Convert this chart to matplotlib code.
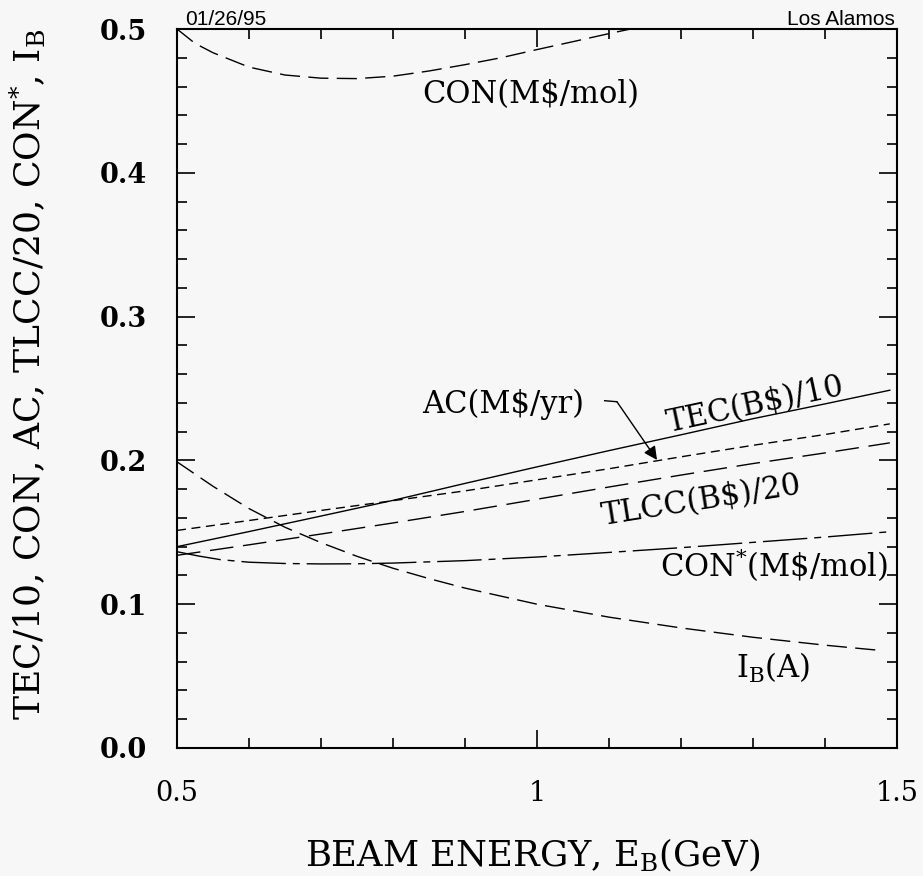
import numpy as np
import matplotlib
matplotlib.use("Agg")
import matplotlib.pyplot as plt
from matplotlib.ticker import MultipleLocator, FixedLocator

# values
E_con = [0.5, 0.525, 0.55, 0.6, 0.65, 0.7, 0.75, 0.8, 0.85, 0.9, 0.95, 1.0, 1.05, 1.1, 1.13]
con = [0.500, 0.490, 0.4835, 0.4735, 0.468, 0.4658, 0.4655, 0.4672, 0.4708, 0.4752, 0.4800, 0.4857, 0.4912, 0.4968, 0.500]

E = [0.5, 0.6, 0.7, 0.8, 0.9, 1.0, 1.1, 1.2, 1.3, 1.4, 1.49]
tec = [0.1400, 0.1505, 0.1613, 0.1722, 0.1840, 0.1955, 0.2068, 0.2178, 0.2290, 0.2393, 0.2488]
ac = [0.1513, 0.1582, 0.1652, 0.1720, 0.1788, 0.1865, 0.1942, 0.2025, 0.2105, 0.2180, 0.2254]
tlcc = [0.1340, 0.1413, 0.1488, 0.1565, 0.1645, 0.1730, 0.1815, 0.1898, 0.1978, 0.2052, 0.2122]

E_star = [0.5, 0.53, 0.56, 0.6, 0.65, 0.7, 0.75, 0.8, 0.9, 1.0, 1.1, 1.2, 1.3, 1.4, 1.49]
con_star = [0.1365, 0.1335, 0.1310, 0.1292, 0.1283, 0.1280, 0.1281, 0.1286, 0.1303, 0.1328, 0.1360, 0.1393, 0.1430, 0.1467, 0.1504]

E_ib = [0.5, 0.55, 0.6, 0.65, 0.7, 0.75, 0.8, 0.85, 0.9, 1.0, 1.1, 1.2, 1.3, 1.4, 1.48]
ib = [0.199, 0.182, 0.1665, 0.1535, 0.1428, 0.1333, 0.1250, 0.1178, 0.1112, 0.1000, 0.0910, 0.0835, 0.0770, 0.0715, 0.0677]

x_ticks = [0.5, 1.0, 1.5]
x_ticklabels = ["0.5", "1", "1.5"]
y_ticks = [0.0, 0.1, 0.2, 0.3, 0.4, 0.5]

plt.rcParams["font.family"] = "DejaVu Serif"
plt.rcParams["mathtext.fontset"] = "dejavuserif"

fig = plt.figure(figsize=(9.23, 8.76), dpi=100)
fig.patch.set_facecolor("#f7f7f7")
ax = fig.add_axes([177 / 923, 128 / 876, 720 / 923, 719 / 876])
ax.set_facecolor("#f7f7f7")

lw = 1.0
ax.plot(E_con, con, color="black", lw=lw, dashes=(14.5, 6))
ax.plot(E, tec, color="black", lw=lw)
ax.plot(E, ac, color="black", lw=lw, dashes=(6.5, 4))
ax.plot(E, tlcc, color="black", lw=lw, dashes=(17, 7))
ax.plot(E_star, con_star, color="black", lw=lw, dashes=(32, 5, 5, 5))
ax.plot(E_ib, ib, color="black", lw=lw, dashes=(14.5, 6))

ax.set_xlim(0.5, 1.5)
ax.set_ylim(0.0, 0.5)
ax.xaxis.set_major_locator(FixedLocator(x_ticks))
ax.set_xticklabels(x_ticklabels)
ax.xaxis.set_minor_locator(MultipleLocator(0.1))
ax.yaxis.set_major_locator(FixedLocator(y_ticks))
ax.set_yticklabels(["%.1f" % v for v in y_ticks], fontweight="bold")
ax.yaxis.set_minor_locator(MultipleLocator(0.02))
ax.tick_params(which="both", direction="in", top=True, right=True, width=1.2, labelsize=19.5)
ax.tick_params(which="major", length=13)
ax.tick_params(which="minor", length=7)
ax.tick_params(axis="x", pad=23)
ax.tick_params(axis="y", pad=21.5)
for s in ax.spines.values():
    s.set_linewidth(1.5)

# curve labels
fs = 22
ax.text(0.840, 0.4483, r"CON(M\$/mol)", fontsize=fs, ha="left", va="baseline")
ax.text(0.840, 0.2328, r"AC(M\$/yr)", fontsize=fs, ha="left", va="baseline")
ax.text(1.1835, 0.220, r"TEC(B\$)/10", fontsize=fs, ha="left", va="baseline",
        rotation=12, rotation_mode="anchor")
ax.text(1.092, 0.155, r"TLCC(B\$)/20", fontsize=fs, ha="left", va="baseline",
        rotation=9, rotation_mode="anchor")
ax.text(1.171, 0.1189, r"CON$^{*}$(M\$/mol)", fontsize=fs, ha="left", va="baseline")
ax.text(1.277, 0.0485, r"I$_\mathrm{B}$(A)", fontsize=fs, ha="left", va="baseline")

# arrow from AC label to its curve
ax.plot([1.094, 1.111], [0.2415, 0.2408], color="black", lw=1.0)
ax.annotate("", xy=(1.1667, 0.2003), xytext=(1.111, 0.2408),
            arrowprops=dict(arrowstyle="-|>", color="black", lw=1.0,
                            mutation_scale=20, shrinkA=0, shrinkB=0))

# axis titles
ax.text(0.494, -0.165, r"BEAM ENERGY, E$_\mathrm{B}$(GeV)", fontsize=25.5,
        ha="center", va="baseline", transform=ax.transAxes)
ax.text(-0.2076, 0.520, r"TEC/10, CON, AC, TLCC/20, CON$^{*}$, I$_\mathrm{B}$", fontsize=26,
        ha="center", va="center", rotation=90, transform=ax.transAxes)

# header
ax.text(0.011, 1.006, "01/26/95", fontsize=15, family="Liberation Sans",
        ha="left", va="baseline", transform=ax.transAxes)
ax.text(0.997, 1.006, "Los Alamos", fontsize=15, family="Liberation Sans",
        ha="right", va="baseline", transform=ax.transAxes)

fig.savefig("out.png", dpi=100, facecolor=fig.get_facecolor())
